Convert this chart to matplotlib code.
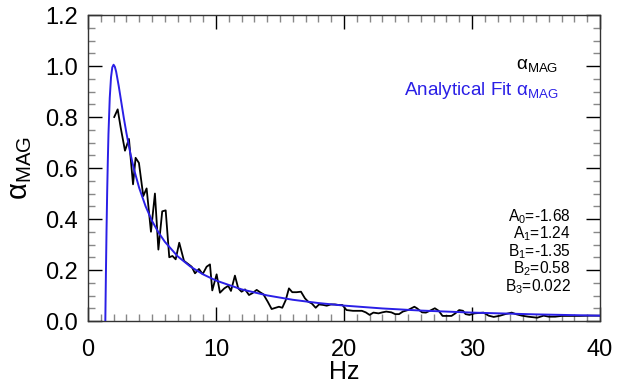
import matplotlib
matplotlib.use("Agg")
import matplotlib.pyplot as plt
from matplotlib.ticker import MultipleLocator, FormatStrFormatter

plt.rcParams['font.family'] = ['Liberation Sans', 'DejaVu Sans']
plt.rcParams['mathtext.fontset'] = 'custom'
plt.rcParams['mathtext.rm'] = 'Liberation Sans'
plt.rcParams['mathtext.it'] = 'Liberation Sans:italic'

# measured alpha_MAG
freq_meas = [2.05, 2.32, 2.55, 2.89, 3.20, 3.52, 3.72, 3.98, 4.32, 4.58,
             4.92, 5.23, 5.50, 5.80, 6.07, 6.35, 6.60, 6.85, 7.13, 7.50,
             7.84, 8.10, 8.36, 8.67, 8.96, 9.27, 9.53, 9.71, 10.05, 10.31,
             10.65, 10.96, 11.17, 11.48, 11.74, 12.00, 12.27, 12.58, 12.84, 13.18,
             13.44, 13.70, 14.04, 14.35, 14.66, 14.92, 15.18, 15.45, 15.70, 15.96,
             16.30, 16.64, 16.95, 17.20, 17.48, 17.79, 18.05, 18.38, 18.65, 18.98,
             19.30, 19.55, 19.87, 20.2, 20.7, 21.4, 21.7, 22.0, 22.3, 22.7,
             23.0, 23.3, 23.7, 24.0, 24.3, 24.6, 25.0, 25.5, 25.7, 26.1,
             26.4, 26.7, 27.1, 27.4, 27.7, 28.0, 28.4, 28.7, 29.0, 29.3,
             29.5, 29.8, 30.2, 30.9, 31.3, 31.7, 32.2, 32.6, 33.1, 33.5,
             33.9, 34.4, 35.1, 35.6, 36.0, 36.5, 37.0, 37.7, 38.4, 39.2,
             40.0]
alpha_meas = [0.80, 0.83, 0.76, 0.668, 0.714, 0.536, 0.64, 0.62, 0.49, 0.52,
              0.35, 0.50, 0.28, 0.43, 0.434, 0.25, 0.255, 0.242, 0.307, 0.236,
              0.223, 0.213, 0.187, 0.204, 0.184, 0.213, 0.222, 0.12, 0.183, 0.111,
              0.128, 0.138, 0.118, 0.178, 0.128, 0.115, 0.124, 0.102, 0.109, 0.122,
              0.113, 0.105, 0.076, 0.047, 0.052, 0.056, 0.052, 0.082, 0.128, 0.113,
              0.113, 0.115, 0.089, 0.076, 0.069, 0.052, 0.065, 0.063, 0.06, 0.065,
              0.065, 0.063, 0.063, 0.043, 0.04, 0.04, 0.034, 0.024, 0.033, 0.03,
              0.034, 0.037, 0.034, 0.027, 0.027, 0.037, 0.043, 0.056, 0.05, 0.034,
              0.033, 0.04, 0.05, 0.04, 0.02, 0.02, 0.02, 0.03, 0.043, 0.04,
              0.027, 0.024, 0.03, 0.033, 0.021, 0.016, 0.021, 0.027, 0.033, 0.026,
              0.021, 0.017, 0.013, 0.021, 0.017, 0.017, 0.02, 0.02, 0.02, 0.021,
              0.021]

# analytical fit
freq_fit = [1.3, 1.36, 1.4, 1.45, 1.5, 1.55, 1.6, 1.7, 1.8, 1.9, 2.0, 2.1, 2.2,
            2.4, 2.6, 2.8, 3.0, 3.3, 3.6, 4.0, 4.5, 5.0, 5.5, 6.0, 7.0, 8.0,
            9.0, 10.0, 12.0, 14.0, 16.0, 18.0, 20.0, 23.0, 26.0, 30.0, 35.0, 40.0]
alpha_fit = [-0.249, 0.022, 0.182, 0.36, 0.508, 0.63, 0.733, 0.875, 0.956, 0.995,
             1.005, 0.997, 0.978, 0.922, 0.859, 0.796, 0.738, 0.660, 0.594, 0.522,
             0.450, 0.393, 0.348, 0.311, 0.254, 0.2136, 0.1828, 0.1588, 0.1241,
             0.1004, 0.0833, 0.0705, 0.0605, 0.0493, 0.0410, 0.0330, 0.0260, 0.0210]

params = [r'$\mathrm{A_0}$=-1.68', r'$\mathrm{A_1}$=1.24', r'$\mathrm{B_1}$=-1.35',
          r'$\mathrm{B_2}$=0.58', r'$\mathrm{B_3}$=0.022']

fig = plt.figure(figsize=(6.17, 3.87), dpi=100)
ax = fig.add_axes([0.1426, 0.1705, 0.8298, 0.7907])

blue = '#2a1fe6'
ax.plot(freq_fit, alpha_fit, color=blue, lw=1.4, zorder=3)
ax.plot(freq_meas, alpha_meas, color='black', lw=1.3, zorder=2)

ax.set_xlim(0, 40)
ax.set_ylim(0, 1.2)
ax.xaxis.set_major_locator(MultipleLocator(10))
ax.xaxis.set_minor_locator(MultipleLocator(1))
ax.yaxis.set_major_locator(MultipleLocator(0.2))
ax.yaxis.set_minor_locator(MultipleLocator(0.05))
ax.yaxis.set_major_formatter(FormatStrFormatter('%.1f'))

ax.tick_params(which='both', direction='in', top=True, right=True,
               labelsize=17, width=1.0)
ax.tick_params(which='major', length=10, color='black')
ax.tick_params(axis='x', which='major', pad=13)
ax.tick_params(axis='y', which='major', pad=7)
ax.tick_params(which='minor', length=5, color='#888888')
for s in ax.spines.values():
    s.set_linewidth(1.0)
    s.set_color('#333333')

ax.set_xlabel('Hz', fontsize=18, labelpad=-1)
ax.set_ylabel(r'$\mathrm{\alpha_{MAG}}$', fontsize=21, labelpad=8)

fig.text(558 / 617, 1 - 69 / 387, r'$\mathrm{\alpha_{MAG}}$', ha='right',
         va='baseline', fontsize=13.6, color='black')
fig.text(558 / 617, 1 - 95 / 387, r'Analytical Fit $\mathrm{\alpha_{MAG}}$',
         ha='right', va='baseline', fontsize=13.6, color=blue)

for i, p in enumerate(params):
    fig.text(571 / 617, 1 - (221 + 17.5 * i) / 387, p, ha='right',
             va='baseline', fontsize=11.2, color='black')

fig.savefig('out.png', dpi=100)
